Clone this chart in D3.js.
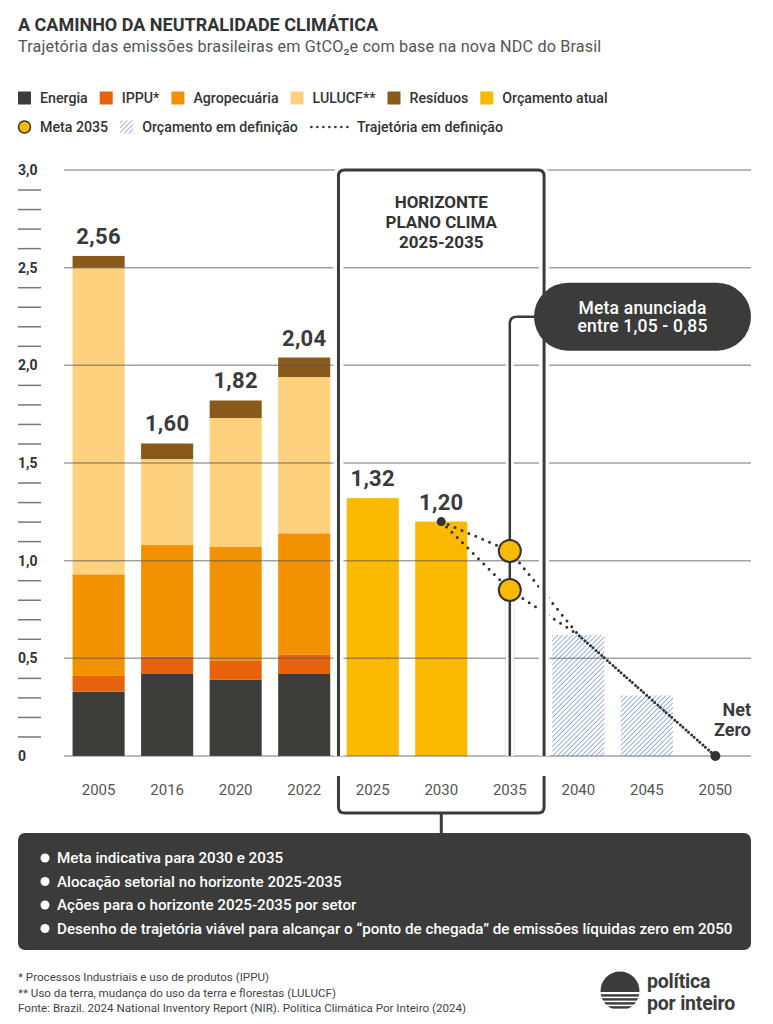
<!DOCTYPE html>
<html>
<head>
<meta charset="utf-8">
<title>A caminho da neutralidade climática</title>
<style>
  body { margin: 0; padding: 0; background: #fff; }
  svg { display: block; font-family: Roboto, "Noto Sans", sans-serif; }
</style>
</head>
<body>
<div id="chart"></div>
<script src="https://cdn.jsdelivr.net/npm/d3@7"></script>
<script>
// dados em GtCO2e
const anos = ["2005", "2016", "2020", "2022", "2025", "2030", "2035", "2040", "2045", "2050"];
const anosHist = ["2005", "2016", "2020", "2022"];
const setores = ["Energia", "IPPU*", "Agropecuária", "LULUCF**", "Resíduos"];
const energia = [0.33, 0.42, 0.39, 0.42];
const ippu = [0.08, 0.09, 0.10, 0.10];
const agropecuaria = [0.52, 0.57, 0.58, 0.62];
const lulucf = [1.57, 0.44, 0.66, 0.80];
const residuos = [0.06, 0.08, 0.09, 0.10];
const anosOrcamento = ["2025", "2030"];
const orcamento = [1.32, 1.20];
const anoMeta = "2035";
const meta = [1.05, 0.85];
const anosDefinicao = ["2040", "2045"];
const definicao = [0.62, 0.31];
const trajAnos = ["2030", "2035", "2040", "2045", "2050"];
const trajAlta = [1.20, 1.05, 0.62, 0.31, 0];
const trajBaixa = [1.20, 0.85, 0.62, 0.31, 0];
const yTicks = [0, 0.5, 1, 1.5, 2, 2.5, 3];
const itensPlano = [
  "Meta indicativa para 2030 e 2035",
  "Alocação setorial no horizonte 2025-2035",
  "Ações para o horizonte 2025-2035 por setor",
  "Desenho de trajetória viável para alcançar o “ponto de chegada” de emissões líquidas zero em 2050"
];
const notas = [
  "* Processos Industriais e uso de produtos (IPPU)",
  "** Uso da terra, mudança do uso da terra e florestas (LULUCF)",
  "Fonte: Brazil. 2024 National Inventory Report (NIR). Política Climática Por Inteiro (2024)"
];

const cores = ["#3c3c3a", "#e8620b", "#f29200", "#fdd17d", "#8a5a1a"];
const corOrcamento = "#fbb900";
const escuro = "#3b3b3b";
const hachura = "#6f90d2";

const width = 773, height = 1024;
const svg = d3.select("#chart").append("svg")
  .attr("width", width)
  .attr("height", height);

const br = d3.formatLocale({decimal: ",", thousands: ".", grouping: [3], currency: ["R$", ""]});
const f2 = br.format(".2f");
const fTick = d => d === 0 ? "0" : br.format(".1f")(d);

// padrão de hachura
const defs = svg.append("defs");
defs.append("pattern")
  .attr("id", "hatch")
  .attr("patternUnits", "userSpaceOnUse")
  .attr("width", 3.4).attr("height", 3.4)
  .attr("patternTransform", "rotate(45)")
  .append("line")
  .attr("x1", 0).attr("y1", 0).attr("x2", 0).attr("y2", 3.4)
  .attr("stroke", hachura).attr("stroke-width", 1.4);

// cabeçalho
svg.append("text").attr("x", 18).attr("y", 31)
  .attr("font-size", 18).attr("font-weight", 700).attr("fill", "#333")
  .text("A CAMINHO DA NEUTRALIDADE CLIMÁTICA");
svg.append("text").attr("x", 18).attr("y", 52)
  .attr("font-size", 16.2).attr("letter-spacing", 0.15).attr("fill", "#555")
  .text("Trajetória das emissões brasileiras em GtCO₂e com base na nova NDC do Brasil");

// legenda
function legenda(itens, ly) {
  let lx = 18;
  itens.forEach(it => {
    const g = svg.append("g").attr("transform", `translate(${lx},${ly})`);
    let w = 13;
    if (it.tipo === "quad") {
      g.append("rect").attr("x", 0).attr("y", -6.5).attr("width", 13).attr("height", 13).attr("fill", it.cor);
    } else if (it.tipo === "circ") {
      g.append("circle").attr("cx", 6.5).attr("cy", 0).attr("r", 6).attr("fill", corOrcamento)
        .attr("stroke", "#333").attr("stroke-width", 1.5);
    } else if (it.tipo === "hach") {
      g.append("rect").attr("x", 0).attr("y", -6.5).attr("width", 13).attr("height", 13).attr("fill", "url(#hatch)");
    } else {
      w = 38;
      g.append("line").attr("x1", 1.5).attr("x2", w).attr("y1", 0).attr("y2", 0)
        .attr("stroke", "#333").attr("stroke-width", 2.6)
        .attr("stroke-linecap", "round").attr("stroke-dasharray", "0 6");
    }
    const t = g.append("text").attr("x", w + 9).attr("y", 0).attr("dy", "0.35em")
      .attr("font-size", 14.2).attr("font-weight", 500).attr("fill", "#333").text(it.nome);
    lx += w + 9 + t.node().getComputedTextLength() + 12;
  });
}
legenda(setores.map((s, i) => ({nome: s, tipo: "quad", cor: cores[i]}))
  .concat([{nome: "Orçamento atual", tipo: "quad", cor: corOrcamento}]), 98);
legenda([
  {nome: "Meta 2035", tipo: "circ"},
  {nome: "Orçamento em definição", tipo: "hach"},
  {nome: "Trajetória em definição", tipo: "dots"}
], 127);

// escalas
const x = d3.scaleBand().domain(anos).range([64, 750]).paddingInner(0.24).paddingOuter(0.125);
const y = d3.scaleLinear().domain([0, 3]).range([756, 170]);
const bw = x.bandwidth();
const cx = a => x(a) + bw / 2;

// barras empilhadas
const linhas = anosHist.map((a, i) => ({
  ano: a,
  "Energia": energia[i], "IPPU*": ippu[i], "Agropecuária": agropecuaria[i],
  "LULUCF**": lulucf[i], "Resíduos": residuos[i]
}));
const series = d3.stack().keys(setores)(linhas);
svg.append("g").selectAll("g").data(series).join("g")
  .attr("fill", (d, i) => cores[i])
  .selectAll("rect").data(d => d).join("rect")
  .attr("x", d => x(d.data.ano))
  .attr("y", d => y(d[1]))
  .attr("width", bw)
  .attr("height", d => y(d[0]) - y(d[1]));

svg.append("g").selectAll("rect").data(anosOrcamento).join("rect")
  .attr("x", d => x(d)).attr("width", bw)
  .attr("y", (d, i) => y(orcamento[i]))
  .attr("height", (d, i) => y(0) - y(orcamento[i]))
  .attr("fill", corOrcamento);

svg.append("g").selectAll("rect").data(anosDefinicao).join("rect")
  .attr("x", d => x(d)).attr("width", bw)
  .attr("y", (d, i) => y(definicao[i]))
  .attr("height", (d, i) => y(0) - y(definicao[i]))
  .attr("fill", "url(#hatch)");

// faixa clara da meta 2035
svg.append("rect")
  .attr("x", cx(anoMeta) - 5).attr("width", 10)
  .attr("y", y(d3.min(meta))).attr("height", y(0) - y(d3.min(meta)))
  .attr("fill", "#ebebeb");

// linhas de grade
svg.append("g").selectAll("line").data(yTicks).join("line")
  .attr("x1", 64).attr("x2", 751)
  .attr("y1", d => y(d)).attr("y2", d => y(d))
  .attr("stroke", "#555").attr("stroke-opacity", 0.55).attr("stroke-width", 1.5);

// eixo y
const eixoY = svg.append("g").attr("transform", "translate(18,0)")
  .call(d3.axisLeft(y).tickValues(yTicks).tickSize(0).tickFormat(fTick));
eixoY.select(".domain").remove();
eixoY.selectAll("text").attr("x", 0).attr("text-anchor", "start")
  .attr("font-family", "Roboto").attr("font-size", 14).attr("font-weight", 700).attr("fill", "#333");

const menores = d3.range(1, 30).filter(i => i % 5 !== 0).map(i => i / 10);
const eixoMenor = svg.append("g").attr("transform", "translate(18,0)")
  .call(d3.axisLeft(y).tickValues(menores).tickSize(-23).tickFormat(""));
eixoMenor.select(".domain").remove();
eixoMenor.selectAll("line").attr("stroke", "#777").attr("stroke-width", 1.5);

// eixo x
const eixoX = svg.append("g").attr("transform", `translate(0,${y(0)})`)
  .call(d3.axisBottom(x).tickSize(0).tickPadding(28));
eixoX.select(".domain").remove();
eixoX.selectAll("text").attr("font-family", "Roboto").attr("font-size", 15).attr("fill", "#555");

// trajetórias pontilhadas
const traj = d3.line().x(d => cx(d[0])).y(d => y(d[1]));
[trajAlta, trajBaixa].forEach(v => {
  svg.append("path")
    .attr("d", traj(trajAnos.map((a, i) => [a, v[i]])))
    .attr("fill", "none").attr("stroke", "#333").attr("stroke-width", 3)
    .attr("stroke-linecap", "round").attr("stroke-dasharray", "0 7.5");
});

// haste da meta e chamada
const sx = cx(anoMeta), calloutY = 316.7, calloutX = 534;
const haste = `M${sx},${y(0)} V${calloutY + 7} Q${sx},${calloutY} ${sx + 7},${calloutY} H${calloutX + 5}`;
svg.append("path").attr("d", haste).attr("fill", "none").attr("stroke", "#fff").attr("stroke-width", 8);
svg.append("path").attr("d", haste).attr("fill", "none").attr("stroke", escuro).attr("stroke-width", 2.5);

// caixa do horizonte plano clima
const bL = (x("2022") + bw + x("2025")) / 2;
const bR = x("2035") + bw + (x("2040") - x("2035") - bw) / 2;
const bTop = y(3), bBot = y(0), r = 6;
const caixa = `M${bL},${bBot} V${bTop + r} Q${bL},${bTop} ${bL + r},${bTop} H${bR - r} Q${bR},${bTop} ${bR},${bTop + r} V${bBot}`;
const chave = `M${bL},776 V${813 - r} Q${bL},813 ${bL + r},813 H${bR - r} Q${bR},813 ${bR},${813 - r} V776 M${(bL + bR) / 2},813 V833`;
svg.append("path").attr("d", caixa).attr("fill", "none").attr("stroke", "#fff").attr("stroke-width", 10);
[caixa, chave].forEach(p => svg.append("path").attr("d", p).attr("fill", "none")
  .attr("stroke", escuro).attr("stroke-width", 3).attr("stroke-linejoin", "round"));

svg.append("text").attr("x", (bL + bR) / 2).attr("y", 208).attr("text-anchor", "middle")
  .attr("font-size", 17).attr("font-weight", 700).attr("fill", "#333")
  .selectAll("tspan").data(["HORIZONTE", "PLANO CLIMA", "2025-2035"]).join("tspan")
  .attr("x", (bL + bR) / 2).attr("dy", (d, i) => i ? 20 : 0).text(d => d);

// pontos e círculos
svg.append("circle").attr("cx", cx("2030")).attr("cy", y(orcamento[1])).attr("r", 4.5).attr("fill", "#333");
svg.append("circle").attr("cx", cx("2050")).attr("cy", y(0)).attr("r", 5).attr("fill", "#333");
svg.append("g").selectAll("circle").data(meta).join("circle")
  .attr("cx", sx).attr("cy", d => y(d)).attr("r", 11)
  .attr("fill", corOrcamento).attr("stroke", "#333").attr("stroke-width", 2);

// rótulos de valores
const totais = linhas.map(d => ({ano: d.ano, v: d3.sum(setores, k => d[k])}))
  .concat(anosOrcamento.map((a, i) => ({ano: a, v: orcamento[i]})));
svg.append("g").selectAll("text").data(totais).join("text")
  .attr("x", d => cx(d.ano)).attr("y", d => y(d.v) - 12)
  .attr("text-anchor", "middle").attr("font-size", 22).attr("font-weight", 700)
  .attr("letter-spacing", 0.3).attr("fill", escuro)
  .text(d => f2(d.v));

["Net", "Zero"].forEach((t, i) => svg.append("text")
  .attr("x", 751).attr("y", 716 + i * 20).attr("text-anchor", "end")
  .attr("font-size", 18).attr("font-weight", 700).attr("fill", escuro).text(t));

// balão da meta anunciada
svg.append("rect").attr("x", calloutX).attr("y", 282.7).attr("width", 217).attr("height", 68)
  .attr("rx", 34).attr("fill", escuro);
svg.append("text").attr("x", calloutX + 108.5).attr("y", 314).attr("text-anchor", "middle")
  .attr("font-size", 17.5).attr("font-weight", 500).attr("letter-spacing", 0.2).attr("fill", "#fff")
  .selectAll("tspan").data(["Meta anunciada", "entre 1,05 - 0,85"]).join("tspan")
  .attr("x", calloutX + 108.5).attr("dy", (d, i) => i ? 18 : 0).text(d => d);

// caixa inferior
svg.append("rect").attr("x", 18).attr("y", 833).attr("width", 733).attr("height", 117)
  .attr("rx", 7).attr("fill", escuro);
const itens = svg.append("g").selectAll("g").data(itensPlano).join("g")
  .attr("transform", (d, i) => `translate(0,${858 + i * 23.5})`);
itens.append("circle").attr("cx", 45).attr("cy", 0).attr("r", 4.5).attr("fill", "#fff");
itens.append("text").attr("x", 57).attr("dy", "0.36em")
  .attr("font-size", 15.2).attr("font-weight", 500).attr("fill", "#fff").text(d => d);

// notas
svg.append("g").selectAll("text").data(notas).join("text")
  .attr("x", 18).attr("y", (d, i) => 981 + i * 15.5)
  .attr("font-size", 11.6).attr("fill", "#444").text(d => d);

// logotipo
const logo = svg.append("g").attr("fill", escuro);
defs.append("clipPath").attr("id", "sol").append("circle").attr("cx", 620).attr("cy", 991).attr("r", 19.5);
const sol = logo.append("g").attr("clip-path", "url(#sol)");
sol.append("rect").attr("x", 600).attr("y", 971).attr("width", 40).attr("height", 21);
[994.2, 998.2, 1002.2, 1006.2].forEach(yy =>
  sol.append("rect").attr("x", 600).attr("y", yy).attr("width", 40).attr("height", 2.4));
logo.append("text").attr("x", 647).attr("y", 988).attr("font-size", 19.5).attr("font-weight", 700)
  .attr("letter-spacing", -0.2).text("política");
logo.append("text").attr("x", 647).attr("y", 1010).attr("font-size", 19.5).attr("font-weight", 700)
  .attr("letter-spacing", -0.2).text("por inteiro");
</script>
</body>
</html>
